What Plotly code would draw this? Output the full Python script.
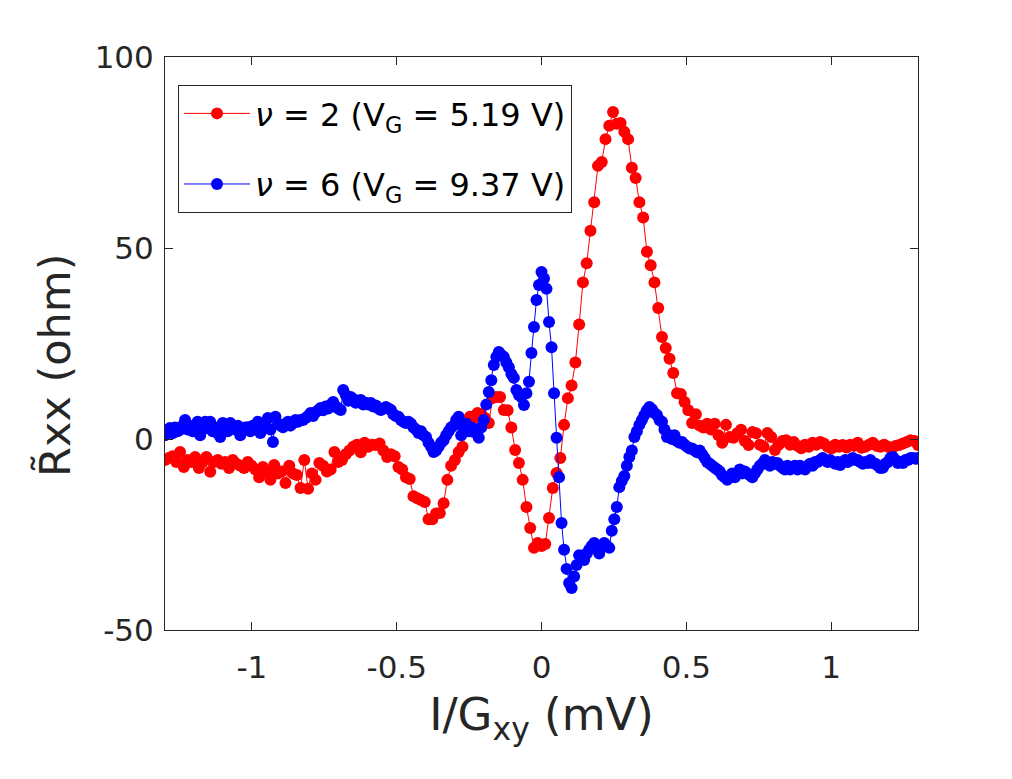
import numpy as np
import plotly.graph_objects as go

# Sweep limits (I/Gxy, mV)
x_min, x_max = -1.3, 1.3

# nu = 2 (VG = 5.19 V) : 201 sweep points
rxx_nu2 = [
    -5.5, -5, -4.5, -6, -3.4, -7.3, -5.5, -6, -4.7, -7.6,
    -6, -4.7, -8.6, -6, -5.5, -6.5, -6, -7.6, -5.5, -6.5,
    -7, -7.6, -6, -7, -8, -10, -7.3, -8.5, -10.7, -6.8,
    -9, -8.5, -11.5, -7, -9, -9.4, -12.8, -5.5, -13, -9,
    -10.7, -6.3, -7, -8.5, -8, -3.4, -6, -5.5, -4, -3,
    -2, -1.5, -3.5, -1, -2, -1.5, -1.6, -1.2, -3, -4.7,
    -4, -4.5, -7.3, -8, -10, -10.5, -15, -15.5, -16, -16.5,
    -21, -21, -19.5, -19.4, -16.8, -10.7, -7, -5.5, -3.4, -2,
    2, 5.8, 5.5, 6.8, 6.5, 5.5, 4.2, 10.7, 11, 11,
    7.6, 7.5, 3, -2.9, -6.3, -10.7, -17.8, -23.3, -28.5, -27.2,
    -28, -27.5, -20.7, -12.8, -8.9, -5, 3.7, 10.7, 14, 20,
    30, 41, 46, 54.5, 62, 71.5, 72.5, 78.5, 82, 85.6,
    82.5, 82.7, 80.4, 78.5, 71, 68.3, 62, 58, 49, 45.5,
    41, 34.3, 26.7, 23.8, 21, 17.3, 12, 11.8, 9.7, 7.5,
    4.2, 6.5, 3.5, 3, 4, 2.5, 4, 1, -1, 3.7,
    0.5, 0.3, 1.5, 2.4, -0.5, -1.6, 1.8, 1.5, -1.5, -2,
    1.6, 0.5, -2.9, -1.5, -0.5, -0.3, -1.5, -0.8, -1.8, -2.4,
    -1.5, -2, -1, -1.5, -0.8, -1.2, -2, -2.5, -1.5, -2,
    -1.6, -2.2, -1.5, -1.8, -1, -2.3, -2, -1.5, -1, -1.8,
    -2, -1.5, -2, -2.5, -1.8, -1.6, -1.2, -0.8, -0.3, -0.5, -1.6,
]

# nu = 6 (VG = 9.37 V) : 301 sweep points
rxx_nu6 = [
    1, 2, 2.9, 1.5, 3, 2, 2.4, 3.5, 5, 2.5,
    3.5, 2, 3, 4.5, 1, 2.5, 4.5, 3, 4.5, 2,
    3, 1.5, 0.5, 4.2, 3, 2, 4.2, 3, 2.5, 3.5,
    1, 2.5, 3, 3.1, 2, 3.5, 2.5, 4.5, 1.6, 3,
    4, 5.5, 2.5, -0.8, 5.8, 4, 3.5, 3.1, 4, 4.5,
    3.5, 4.2, 5, 4.5, 5, 5, 5.5, 6, 6.8, 6,
    7, 7.5, 8.1, 7.5, 8.5, 8, 9, 9.7, 8.5, 8,
    7.6, 12.8, 11.5, 10, 11, 10.5, 9.5, 10, 10.2, 9,
    9.5, 9, 9.4, 8.5, 8.8, 8, 7.6, 8, 8.4, 8,
    7.6, 6.5, 6, 5.8, 5, 4.5, 4.2, 4.5, 4, 3,
    2.5, 1.6, 2, 1, 0.5, -1, -2, -3.4, -3, -2,
    -1, -0.3, 1, 2, 3, 3.5, 5, 5.8, 1, 3,
    4, 2, 3, 1.8, 2.5, 0.3, 3, 5, 9, 12.3,
    15.4, 19.4, 21.5, 22.8, 22, 21.5, 20, 18.8, 17, 16,
    12.8, 11.5, 11, 8.9, 12, 15, 22.5, 29.3, 36.4, 40.3,
    43.7, 42, 39.3, 30.6, 24, 12, 0.3, -10, -22, -29,
    -34, -37.7, -39, -36, -33, -30.4, -31, -31.7, -30, -29,
    -28, -27.2, -28.5, -30, -28, -27.2, -28, -28.5, -24, -21,
    -17.8, -12.6, -11, -9.7, -7, -4.7, -3, 0.5, 2, 3.7,
    5, 6.3, 7.5, 8.4, 7.8, 6.8, 6.3, 5, 4.5, 2.5,
    0.5, 1, 0, 1, -0.5, -1, -0.8, -1.5, -2, -2.5,
    -2.5, -3, -3.5, -3, -4, -5, -6, -6.5, -7, -7.5,
    -8, -8.5, -9.5, -10, -10.7, -10, -9, -10, -9, -8,
    -9, -8.5, -9, -9.5, -10, -9, -8, -7, -6.5, -5.5,
    -6.5, -7, -6, -6.5, -6.3, -7, -7.5, -8, -7, -8,
    -7.5, -7, -8, -7, -7.5, -8, -7, -6.5, -7, -6,
    -6, -5.5, -5, -5.5, -6, -5.5, -6, -6.5, -6, -6.8,
    -6, -5.5, -6, -5.5, -5, -5.5, -5.5, -6, -6.5, -6,
    -6.3, -5.5, -6.3, -6.5, -7, -7.6, -7.5, -6.5, -6, -5,
    -4.7, -5.5, -6.3, -6, -6.3, -5.5, -5.5, -5, -5, -5.2, -5,
]

x_nu2 = np.linspace(x_min, x_max, len(rxx_nu2))
x_nu6 = np.linspace(x_min, x_max, len(rxx_nu6))

x_tick_vals = [-1, -0.5, 0, 0.5, 1]
x_tick_text = ["-1", "-0.5", "0", "0.5", "1"]
y_tick_vals = [-50, 0, 50, 100]
y_tick_text = ["-50", "0", "50", "100"]

label_nu2 = "<i>ν</i> = 2 (V<sub>G</sub> = 5.19 V)"
label_nu6 = "<i>ν</i> = 6 (V<sub>G</sub> = 9.37 V)"
x_title = "I/G<sub>xy</sub> (mV)"
y_title = "R\u0303xx (ohm)"

FONT = "DejaVu Sans, Liberation Sans, Arial, sans-serif"
AX = "#262626"

fig = go.Figure()
fig.add_trace(go.Scatter(
    x=x_nu2, y=rxx_nu2, mode="lines+markers", name=label_nu2, legendgroup="a",
    line=dict(color="#ff0000", width=1),
    marker=dict(color="#ff0000", size=12, line=dict(width=0)),
))
fig.add_trace(go.Scatter(
    x=x_nu6, y=rxx_nu6, mode="lines+markers", name=label_nu6, legendgroup="b",
    line=dict(color="#0000ff", width=1),
    marker=dict(color="#0000ff", size=12, line=dict(width=0)),
))

axis_common = dict(
    showgrid=False, zeroline=False, showline=True, linecolor=AX, linewidth=1,
    mirror="ticks", ticks="inside", ticklen=8, tickcolor=AX, tickwidth=1,
    tickfont=dict(family=FONT, size=31, color=AX),
)

fig.update_layout(
    width=1012, height=779,
    margin=dict(l=165, r=94, t=57, b=149),
    paper_bgcolor="white", plot_bgcolor="white",
    font=dict(family=FONT, size=31, color=AX),
    xaxis=dict(range=[x_min, x_max], tickvals=x_tick_vals, ticktext=x_tick_text,
               ticklabelstandoff=10,
               title=dict(text=x_title, font=dict(family=FONT, size=45, color=AX), standoff=14),
               **axis_common),
    yaxis=dict(range=[-50, 100], tickvals=y_tick_vals, ticktext=y_tick_text,
               ticklabelstandoff=4, **axis_common),
    legend=dict(x=0.0173, y=0.951, xanchor="left", yanchor="top",
                bgcolor="white", bordercolor=AX, borderwidth=1,
                font=dict(family=FONT, size=32, color="black"),
                itemwidth=66, tracegroupgap=26),
    showlegend=True,
    annotations=[dict(
        text=y_title, textangle=-90, xref="paper", yref="paper",
        x=-0.146, y=0.461, xanchor="center", yanchor="middle", showarrow=False,
        font=dict(family=FONT, size=43, color=AX),
    )],
)

fig.write_html("out.html")
